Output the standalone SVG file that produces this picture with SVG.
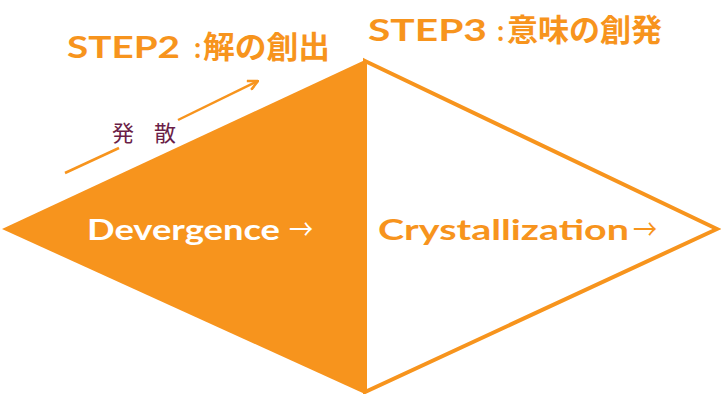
<svg xmlns="http://www.w3.org/2000/svg" width="721" height="394" viewBox="0 0 721 394">
<defs>
<style>
.title{font-weight:700;fill:#F7941D}
.lat{font-family:Lato,"Noto Sans",sans-serif;font-weight:700}
.cjk{font-family:"Noto Sans CJK JP",sans-serif;font-weight:700;font-size:31px}
.arr{font-family:"Noto Sans CJK JP",sans-serif;font-weight:400;font-size:28px}
.jp{font-family:"Noto Sans CJK JP",sans-serif;font-size:22px;fill:#6B1E47}
.conn{fill:none;stroke:#F7941D;stroke-width:2.5}
</style>
<marker id="open" viewBox="0 0 12 12" refX="11" refY="6" markerWidth="12" markerHeight="12" markerUnits="userSpaceOnUse" orient="auto">
<path d="M1,1 L11,6 L1,11" fill="none" stroke="#F7941D" stroke-width="2.5"/>
</marker>
</defs>
<g id="diverge">
<polygon points="2,229 365,60 365,394" fill="#F7941D"/>
<text x="87" y="240" fill="#FFFFFF"><tspan class="lat" font-size="29" textLength="193" lengthAdjust="spacingAndGlyphs">Devergence</tspan><tspan class="arr" x="289" textLength="24" lengthAdjust="spacingAndGlyphs">→</tspan></text>
</g>
<g id="crystal">
<polygon points="365,61 717,229 365,392" fill="#FFFFFF" stroke="#F7941D" stroke-width="4" stroke-linejoin="miter"/>
<text x="378" y="240" fill="#F7941D"><tspan class="lat" font-size="29" textLength="251" lengthAdjust="spacingAndGlyphs">Crystallization</tspan><tspan class="arr" x="633" textLength="24" lengthAdjust="spacingAndGlyphs">→</tspan></text>
</g>
<g id="step2"><text class="title" y="58"><tspan class="lat" x="67" font-size="30" textLength="113" lengthAdjust="spacingAndGlyphs">STEP2</tspan><tspan class="lat" x="194" font-size="28">:</tspan><tspan class="cjk" x="203" textLength="127" lengthAdjust="spacingAndGlyphs">解の創出</tspan></text></g>
<g id="step3"><text class="title" y="41"><tspan class="lat" x="368" font-size="30" textLength="119" lengthAdjust="spacingAndGlyphs">STEP3</tspan><tspan class="lat" x="497" font-size="28">:</tspan><tspan class="cjk" x="507" textLength="155" lengthAdjust="spacingAndGlyphs">意味の創発</tspan></text></g>
<g id="connectors">
<line class="conn" x1="65" y1="173" x2="119" y2="148"/>
<line class="conn" x1="178" y1="120" x2="258" y2="81" marker-end="url(#open)"/>
</g>
<g id="label"><text class="jp" x="112" y="141" textLength="64" lengthAdjust="spacing">発 散</text></g>
</svg>
